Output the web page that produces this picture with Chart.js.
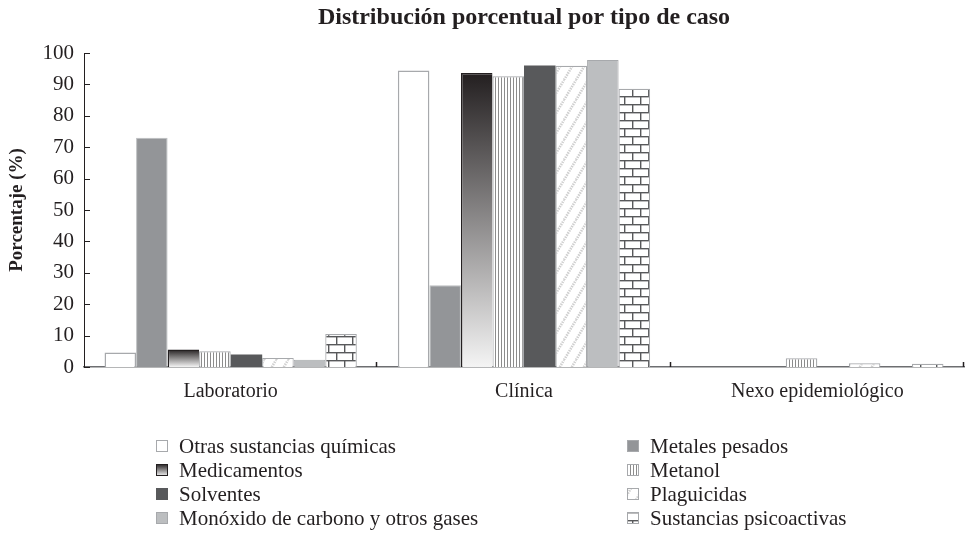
<!DOCTYPE html>
<html>
<head>
<meta charset="utf-8">
<script src="https://cdn.jsdelivr.net/npm/chart.js@4/dist/chart.umd.min.js"></script>
<style>
  html, body { margin: 0; padding: 0; background: #fff; }
  #wrap { width: 965px; height: 538px; position: relative; }
</style>
</head>
<body>
<div id="wrap"><canvas id="c" width="965" height="538"></canvas></div>
<script>
const categories = ["Laboratorio", "Clínica", "Nexo epidemiológico"];
const seriesNames = [
  "Otras sustancias químicas", "Metales pesados", "Medicamentos", "Metanol",
  "Solventes", "Plaguicidas", "Monóxido de carbono y otros gases", "Sustancias psicoactivas"
];
const otras = [4.6, 94.4, 0];
const metales = [73.0, 26.0, 0];
const medicamentos = [5.6, 93.6, 0];
const metanol = [5.0, 92.6, 2.8];
const solventes = [4.0, 96.0, 0];
const plaguicidas = [2.9, 95.9, 1.2];
const monoxido = [2.3, 97.8, 0];
const psicoactivas = [10.5, 88.6, 1.0];
const yTicks = [0, 10, 20, 30, 40, 50, 60, 70, 80, 90, 100];
const titleText = "Distribución porcentual por tipo de caso";
const yTitle = "Porcentaje (%)";

const FONT = "'Liberation Serif', 'DejaVu Serif', serif";
const TXT = "#231f20";

function makePattern(w, h, draw) {
  const c = document.createElement('canvas');
  c.width = w; c.height = h;
  const g = c.getContext('2d');
  draw(g, w, h);
  return g.createPattern(c, 'repeat');
}
const metanolPat = makePattern(3, 4, (g) => {
  g.fillStyle = '#fff'; g.fillRect(0, 0, 3, 4);
  g.fillStyle = '#8c8c8c'; g.fillRect(0, 0, 1, 4);
});
const plagPat = makePattern(12, 20, (g, w, h) => {
  g.fillStyle = '#fff'; g.fillRect(0, 0, w, h);
  g.strokeStyle = '#cfcfcf'; g.lineWidth = 2.6;
  g.setLineDash([1.5, 1]);
  for (let k = -1; k <= 1; k++) {
    g.beginPath(); g.moveTo(k * w, h); g.lineTo(k * w + w, 0); g.stroke();
  }
});
const brickPat = makePattern(16, 16, (g, w, h) => {
  g.fillStyle = '#fff'; g.fillRect(0, 0, w, h);
  g.fillStyle = '#58595b';
  g.fillRect(0, 0, w, 1.4);
  g.fillRect(0, 8, w, 1.4);
  g.fillRect(0, 0, 1.4, 8);
  g.fillRect(8, 8, 1.4, 8);
});
function medGradient(ctx) {
  const chart = ctx.chart;
  if (!chart.chartArea || ctx.raw === undefined) return '#666';
  const y = chart.scales.y;
  const top = y.getPixelForValue(ctx.raw);
  const bot = y.getPixelForValue(0);
  if (bot - top < 1) return '#231f20';
  const g = chart.ctx.createLinearGradient(0, top, 0, bot);
  g.addColorStop(0, '#231f20');
  g.addColorStop(1, '#f4f4f4');
  return g;
}

const styles = [
  { bg: '#ffffff', border: '#a7a9ac', bw: 1.5 },
  { bg: '#939598', border: '#bcbec0', bw: 1 },
  { bg: medGradient, border: '#231f20', bw: { top: 1.5, left: 1.5, right: 0, bottom: 0 } },
  { bg: metanolPat, border: '#a7a9ac', bw: 1.2 },
  { bg: '#58595b', border: '#58595b', bw: 0 },
  { bg: plagPat, border: '#a7a9ac', bw: 1.2 },
  { bg: '#bcbec0', border: '#a7a9ac', bw: 1 },
  { bg: brickPat, border: '#a7a9ac', bw: 1.2 }
];
const values = [otras, metales, medicamentos, metanol, solventes, plaguicidas, monoxido, psicoactivas];

const datasets = seriesNames.map((name, i) => ({
  label: name,
  data: values[i],
  backgroundColor: styles[i].bg,
  borderColor: styles[i].border,
  borderWidth: styles[i].bw,
  borderSkipped: 'bottom',
  barPercentage: 1.0,
  categoryPercentage: 0.86
}));

const decorPlugin = {
  id: 'decor',
  afterDraw(chart) {
    const ctx = chart.ctx;
    const area = chart.chartArea;
    const xs = chart.scales.x, ys = chart.scales.y;
    ctx.save();
    // title
    ctx.fillStyle = TXT;
    ctx.font = "bold 24px " + FONT;
    ctx.textAlign = 'center';
    ctx.textBaseline = 'middle';
    ctx.fillText(titleText, (area.left + area.right) / 2, 18);
    // y ticks inward
    ctx.strokeStyle = '#231f20';
    ctx.lineWidth = 1;
    yTicks.forEach(v => {
      const py = Math.round(ys.getPixelForValue(v)) + 0.5;
      ctx.beginPath(); ctx.moveTo(area.left, py); ctx.lineTo(area.left + 6, py); ctx.stroke();
    });
    // x boundary ticks inward
    const cw = (area.right - area.left) / categories.length;
    ctx.strokeStyle = '#231f20';
    ctx.lineWidth = 1.5;
    for (let i = 1; i <= categories.length; i++) {
      const px = Math.round(xs.getPixelForValue(i - 1) + cw / 2) - 0.5;
      ctx.beginPath(); ctx.moveTo(px, area.bottom); ctx.lineTo(px, area.bottom - 5); ctx.stroke();
    }
    // legend
    const colX = [[156, 179], [627, 650]];
    const rowY = [446, 470, 494, 518];
    ctx.font = "21px " + FONT;
    ctx.textAlign = 'left';
    ctx.textBaseline = 'middle';
    seriesNames.forEach((name, i) => {
      const col = i % 2, row = Math.floor(i / 2);
      const bx = colX[col][0], tx = colX[col][1], cy = rowY[row];
      const s = 12, top = cy - s / 2;
      let fill = styles[i].bg;
      if (typeof fill === 'function') {
        const g = ctx.createLinearGradient(0, top, 0, top + s);
        g.addColorStop(0, '#231f20'); g.addColorStop(1, '#f4f4f4');
        fill = g;
      }
      ctx.fillStyle = fill;
      ctx.fillRect(bx, top, s, s);
      if (styles[i].bw) {
        ctx.strokeStyle = i === 2 ? '#231f20' : '#a7a9ac';
        ctx.lineWidth = 1;
        ctx.strokeRect(bx + 0.5, top + 0.5, s - 1, s - 1);
      }
      ctx.fillStyle = TXT;
      ctx.fillText(name, tx, cy + 1);
    });
    ctx.restore();
  }
};

new Chart(document.getElementById('c'), {
  type: 'bar',
  data: { labels: categories, datasets },
  options: {
    responsive: false,
    animation: false,
    devicePixelRatio: 1,
    layout: { padding: { top: 53, right: 1, bottom: 131, left: 0 } },
    plugins: { legend: { display: false }, title: { display: false }, tooltip: { enabled: false } },
    scales: {
      x: {
        grid: { display: false, drawTicks: false },
        border: { display: true, color: '#6d6e71', width: 1.5 },
        ticks: { color: TXT, font: { family: FONT, size: 20 }, padding: 13, maxRotation: 0 },
        afterFit(scale) { scale.height = 40; }
      },
      y: {
        min: 0, max: 100,
        afterBuildTicks(scale) { scale.ticks = yTicks.map(v => ({ value: v })); },
        grid: { display: false, drawTicks: false },
        border: { display: true, color: '#231f20', width: 1 },
        ticks: { color: TXT, font: { family: FONT, size: 21 }, padding: 10 },
        title: { display: true, text: yTitle, color: TXT, font: { family: FONT, size: 19, weight: 'bold' }, padding: { top: 6, bottom: 4 } },
        afterFit(scale) { scale.width = 84; }
      }
    }
  },
  plugins: [decorPlugin]
});
</script>
</body>
</html>
